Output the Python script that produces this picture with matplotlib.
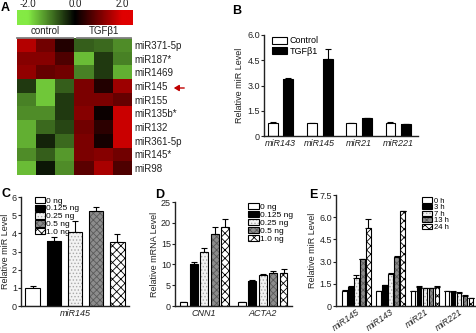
import matplotlib
matplotlib.use("Agg")
import matplotlib.pyplot as plt
import numpy as np
from matplotlib.colors import LinearSegmentedColormap
from matplotlib.patches import Patch, FancyArrowPatch
from matplotlib.lines import Line2D

plt.rcParams['font.family'] = ['Liberation Sans', 'DejaVu Sans']
plt.rcParams['hatch.linewidth'] = 0.6

# ---------------- data ----------------
heat_rows = ['miR371-5p', 'miR187*', 'miR1469', 'miR145', 'miR155',
             'miR135b*', 'miR132', 'miR361-5p', 'miR145*', 'miR98']
heat_groups = ['control', 'TGFβ1']
heat_values = [
    [1.6, 1.0, 0.3, -0.8, -0.9, -1.2],
    [1.2, 1.2, 0.7, -1.6, -0.5, -1.1],
    [1.3, 0.9, 1.0, -1.1, -0.5, -1.5],
    [-0.5, -1.7, -0.8, 1.1, 0.3, 1.4],
    [-1.1, -1.7, -0.5, 1.1, 1.1, 0.9],
    [-1.2, -1.2, -0.5, 1.2, 0.1, 1.8],
    [-1.5, -0.9, -0.6, 1.0, 0.4, 1.8],
    [-1.5, -0.3, -0.9, 1.1, 0.2, 1.8],
    [-1.2, -0.8, -1.3, 1.1, 1.2, 1.0],
    [-1.6, -0.2, -1.2, 0.8, 1.5, 0.7],
]
cbar_ticks = [-2.0, 0.0, 2.0]
cbar_labels = ['-2.0', '0.0', '2.0']

b_genes = ['miR143', 'miR145', 'miR21', 'miR221']
b_series = ['Control', 'TGFβ1']
b_control = [0.75, 0.75, 0.75, 0.75]
b_control_err = [0.10, 0.02, 0.05, 0.08]
b_tgf = [3.4, 4.6, 1.05, 0.70]
b_tgf_err = [0.05, 0.55, 0.02, 0.02]
b_yticks = [0, 1.5, 3.0, 4.5, 6.0]
b_yticklabels = ['0', '1.5', '3.0', '4.5', '6.0']

c_gene = ['miR145']
c_doses = ['0 ng', '0.125 ng', '0.25 ng', '0.5 ng', '1.0 ng']
c_values = [1.0, 3.6, 4.1, 5.25, 3.5]
c_err = [0.10, 0.18, 0.60, 0.20, 0.45]
c_yticks = [0, 1, 2, 3, 4, 5, 6]

d_genes = ['CNN1', 'ACTA2']
d_values = [[1.0, 10.0, 13.0, 17.2, 19.1],
            [1.0, 6.1, 7.5, 7.9, 7.9]]
d_err = [[0.05, 0.6, 1.0, 1.8, 1.7],
         [0.05, 0.05, 0.3, 0.5, 0.9]]
d_yticks = [0, 5, 10, 15, 20, 25]

e_genes = ['miR145', 'miR143', 'miR21', 'miR221']
e_times = ['0 h', '3 h', '7 h', '13 h', '24 h']
e_values = [[1.0, 1.3, 1.9, 3.15, 5.3],
            [1.0, 1.4, 2.15, 3.3, 6.4],
            [1.0, 1.3, 1.2, 1.2, 1.3],
            [1.0, 0.95, 0.9, 0.68, 0.55]]
e_err = [[0.05, 0.05, 0.18, 0.03, 0.6],
         [0.02, 0.03, 0.06, 0.05, 0.05],
         [0.02, 0.02, 0.02, 0.02, 0.05],
         [0.03, 0.03, 0.03, 0.03, 0.02]]
e_yticks = [0, 1.5, 3.0, 4.5, 6.0, 7.5]
e_yticklabels = ['0', '1.5', '3.0', '4.5', '6.0', '7.5']

# ---------------- styles ----------------
# (face, hatch, hatch colour)
STYLES = [
    ('white', None, 'black'),
    ('black', None, 'black'),
    ('#f2f2f2', '.....', '#a8a8a8'),
    ('#8c8c8c', 'xxxxx', '#5a5a5a'),
    ('white', 'xxxx', 'black'),
]
AX_COL = '#222222'
TXT = '#222222'

W, H = 477, 333
fig = plt.figure(figsize=(W / 100, H / 100), dpi=100)


def ax_px(x0, y0, x1, y1):
    return fig.add_axes([x0 / W, 1 - y1 / H, (x1 - x0) / W, (y1 - y0) / H])


def fx(x):
    return x / W


def fy(y):
    return 1 - y / H


def style_bar_axes(ax, fs=6.5):
    for s in ['top', 'right']:
        ax.spines[s].set_visible(False)
    for s in ['left', 'bottom']:
        ax.spines[s].set_linewidth(1.0)
        ax.spines[s].set_color(AX_COL)
    ax.tick_params(axis='y', length=2.0, width=0.8, labelsize=fs, pad=1,
                   color=AX_COL, labelcolor=TXT)
    ax.tick_params(axis='x', length=0, labelsize=fs, pad=2, labelcolor=TXT)


def styled_bar(ax, x, h, w, st, err=None):
    face, hatch, hcol = st
    ax.bar(x, h, w, color=face, edgecolor=hcol, hatch=hatch, linewidth=0, zorder=2)
    ax.bar(x, h, w, fill=False, edgecolor='black', linewidth=0.8, zorder=3)
    if err is not None:
        ax.errorbar(x, h, yerr=[[0], [err]], fmt='none', ecolor='black',
                    elinewidth=0.8, capsize=2.0, capthick=0.8, zorder=1)


def style_handles(styles):
    hs = []
    for face, hatch, hcol in styles:
        hs.append((Patch(facecolor=face, edgecolor=hcol, hatch=hatch, linewidth=0),
                   Patch(fill=False, edgecolor='black', linewidth=0.8)))
    return hs


# ---------------- Panel A ----------------
cmap = LinearSegmentedColormap.from_list('gbr', ['#84ea44', '#000000', '#e00000'])
axA = ax_px(17, 38, 132, 175)
hv = np.array(heat_values)
axA.imshow(hv, cmap=cmap, vmin=-2, vmax=2, aspect='auto', interpolation='nearest')
axA.set_xticks([])
axA.yaxis.tick_right()
axA.set_yticks(range(len(heat_rows)))
axA.set_yticklabels(heat_rows, fontsize=7, color=TXT)
axA.tick_params(axis='y', length=0, pad=2)
for s in axA.spines.values():
    s.set_visible(False)

# colour bar
axCB = ax_px(17, 10, 133, 25)
grad = np.linspace(-2.45, 2.45, 300)[None, :]
axCB.imshow(grad, cmap=cmap, vmin=-2, vmax=2, aspect='auto',
            extent=(-2.45, 2.45, 0, 1))
axCB.set_xlim(-2.45, 2.45)
axCB.set_yticks([])
axCB.xaxis.tick_top()
axCB.set_xticks(cbar_ticks)
axCB.set_xticklabels(cbar_labels, fontsize=7, color=TXT)
axCB.tick_params(axis='x', length=0, pad=1)
for s in axCB.spines.values():
    s.set_visible(False)

# group labels above heatmap
for (x0, x1), lab in zip([(17, 73), (77, 131)], heat_groups):
    fig.add_artist(Line2D([fx(x0), fx(x1)], [fy(37.5), fy(37.5)], color='#808080', lw=1.3))
    fig.text(fx((x0 + x1) / 2), fy(36.5), lab, ha='center', va='bottom', fontsize=7,
             color=TXT)

# red arrow to miR145
arr = FancyArrowPatch((fx(187), fy(88)), (fx(171), fy(88)), transform=fig.transFigure,
                      arrowstyle='-|>,head_length=3,head_width=1.8', color='#c00000',
                      lw=1.0)
fig.add_artist(arr)

# ---------------- Panel B ----------------
axB = ax_px(264, 35, 418, 136)
xb = np.arange(len(b_genes))
for i in range(len(b_genes)):
    styled_bar(axB, xb[i] - 0.2, b_control[i], 0.25, STYLES[0], b_control_err[i])
    styled_bar(axB, xb[i] + 0.2, b_tgf[i], 0.25, STYLES[1], b_tgf_err[i])
axB.set_xlim(-0.42, 3.5)
axB.set_ylim(0, 6.0)
axB.set_yticks(b_yticks)
axB.set_yticklabels(b_yticklabels)
axB.set_xticks(xb)
axB.set_xticklabels(b_genes, style='italic')
style_bar_axes(axB, fs=6.5)
axB.set_ylabel('Relative miR Level', fontsize=6.5, labelpad=2, color=TXT)
axB.legend(style_handles(STYLES[:2]), b_series, loc='upper left',
           bbox_to_anchor=(0.02, 1.04), frameon=False, fontsize=6.5,
           handlelength=1.6, handleheight=0.9, handletextpad=0.3, labelspacing=0.15,
           borderpad=0.1)

# ---------------- Panel C ----------------
axC = ax_px(21, 197, 129, 306)
for i in range(len(c_doses)):
    styled_bar(axC, i, c_values[i], 0.68, STYLES[i], c_err[i])
axC.set_xlim(-0.55, 4.55)
axC.set_ylim(0, 6)
axC.set_yticks(c_yticks)
axC.set_xticks([2])
axC.set_xticklabels(c_gene, style='italic')
style_bar_axes(axC, fs=6.5)
axC.set_ylabel('Relative miR Level', fontsize=6.5, labelpad=1.5, color=TXT)
axC.legend(style_handles(STYLES), c_doses, loc='upper left',
           bbox_to_anchor=(0.08, 1.05), frameon=False, fontsize=6,
           handlelength=1.2, handleheight=0.75, handletextpad=0.15, labelspacing=0.0,
           borderpad=0.1)

# ---------------- Panel D ----------------
axD = ax_px(175, 202, 292, 306)
bw, step = 0.134, 0.178
for g in range(len(d_genes)):
    for i in range(len(c_doses)):
        styled_bar(axD, g + (i - 2) * step, d_values[g][i], bw, STYLES[i], d_err[g][i])
axD.set_xlim(-0.5, 1.5)
axD.set_ylim(0, 25)
axD.set_yticks(d_yticks)
axD.set_xticks(range(len(d_genes)))
axD.set_xticklabels(d_genes, style='italic')
style_bar_axes(axD, fs=6.5)
axD.set_ylabel('Relative mRNA Level', fontsize=6.5, labelpad=1.5, color=TXT)
axD.legend(style_handles(STYLES), c_doses, loc='upper left',
           bbox_to_anchor=(0.58, 1.04), frameon=False, fontsize=6,
           handlelength=1.3, handleheight=0.75, handletextpad=0.2, labelspacing=0.0,
           borderpad=0.1)

# ---------------- Panel E ----------------
axE = ax_px(336, 195, 476, 306)
bwE, stepE = 0.13, 0.175
for g in range(len(e_genes)):
    for i in range(len(e_times)):
        styled_bar(axE, g + (i - 2) * stepE, e_values[g][i], bwE, STYLES[i], e_err[g][i])
axE.set_xlim(-0.6, 3.5)
axE.set_ylim(0, 7.5)
axE.set_yticks(e_yticks)
axE.set_yticklabels(e_yticklabels)
axE.set_xticks(range(len(e_genes)))
axE.set_xticklabels(e_genes, style='italic', rotation=35, ha='right',
                    rotation_mode='anchor')
style_bar_axes(axE, fs=6.5)
axE.tick_params(axis='x', pad=1, labelsize=6.5)
axE.set_ylabel('Relative miR Level', fontsize=6.5, labelpad=1.5, color=TXT)
axE.legend(style_handles(STYLES), e_times, loc='upper left',
           bbox_to_anchor=(0.58, 1.02), frameon=False, fontsize=5.5,
           handlelength=1.4, handleheight=0.7, handletextpad=0.2, labelspacing=-0.1,
           borderpad=0.1)

# ---------------- panel letters ----------------
for lab, (x, y) in zip(['A', 'B', 'C', 'D', 'E'],
                       [(1, 2), (232, 5), (1, 188), (155, 189), (309, 189)]):
    fig.text(fx(x), fy(y), lab, fontsize=9, fontweight='bold', ha='left', va='top')

fig.savefig('out.png', dpi=100)
